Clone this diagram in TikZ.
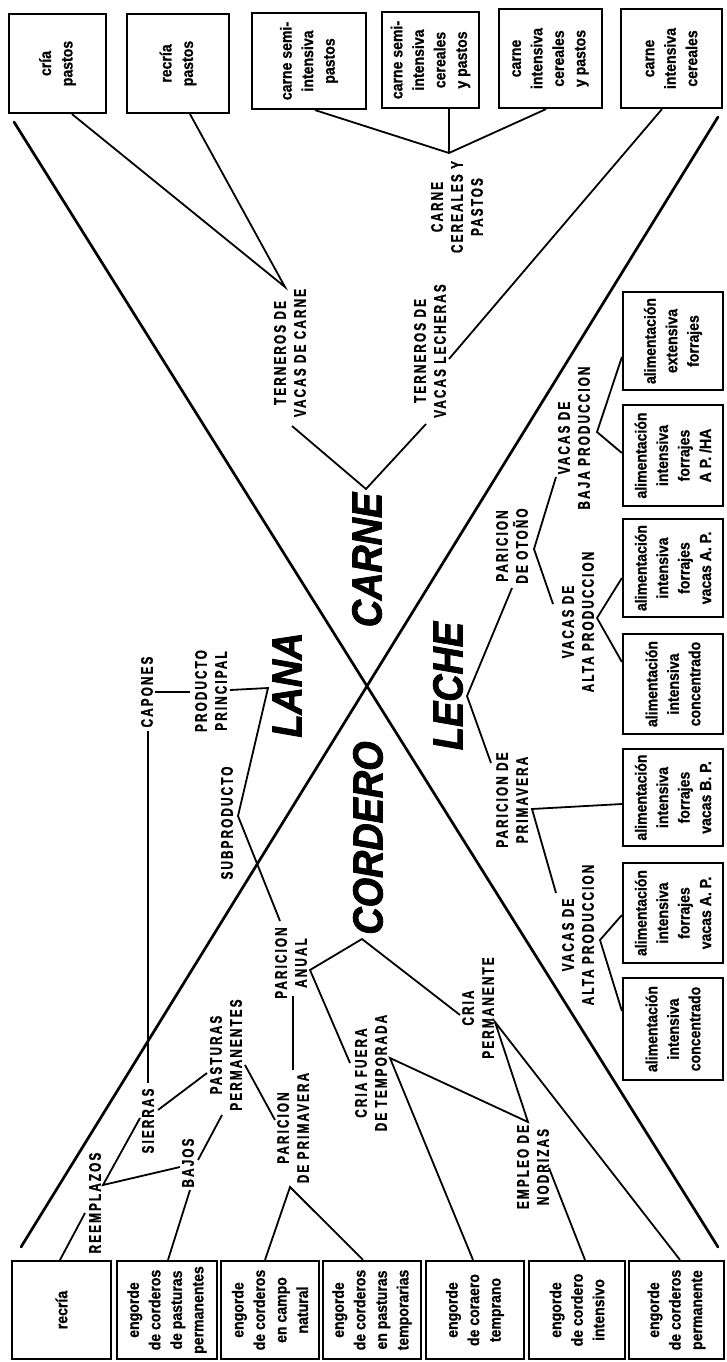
\documentclass[tikz,border=0pt]{standalone}
\usepackage{fontspec}
\newfontfamily\lblfont{Liberation Sans}[FakeStretch=0.7,LetterSpace=12.5,FakeBold=1]
\newfontfamily\bigfont{Liberation Sans}[FakeStretch=0.9,FakeBold=2]
\newfontfamily\boxfont{Liberation Sans}[FakeStretch=0.88,FakeBold=0.8]
\begin{document}
\begin{tikzpicture}[x=1pt,y=-1pt,
  box/.style={draw, line width=2.2pt, inner sep=0pt},
  btext/.style={rotate=90, align=center, inner sep=0pt,
    font=\boxfont\bfseries\fontsize{16}{21.5}\selectfont},
  lbl/.style={rotate=90, align=center, inner sep=1pt,
    font=\lblfont\bfseries\fontsize{16.8}{20}\selectfont},
  big/.style={rotate=90, inner sep=0pt,
    font=\bigfont\bfseries\itshape\fontsize{42}{42}\selectfont},
  ln/.style={line width=1.8pt, line join=miter},
  xline/.style={line width=2.7pt, line cap=round}]
\fill[white] (0,0) rectangle (726,1362);
\useasboundingbox (0,0) rectangle (726,1362);

% ---------- top row of boxes ----------
\node[box, minimum width=97pt,  minimum height=99pt] (t1) at (57.5,63.5) {};
\node[box, minimum width=102pt, minimum height=99pt] (t2) at (178,63.5) {};
\node[box, minimum width=114pt, minimum height=96pt] (t3) at (309,61) {};
\node[box, minimum width=97pt,  minimum height=96pt] (t4) at (430.5,60) {};
\node[box, minimum width=103pt, minimum height=99pt] (t5) at (550.5,58.5) {};
\node[box, minimum width=101pt, minimum height=99pt] (t6) at (671.5,58.5) {};
\node[btext] (t1x) at (t1) {cría\\pastos};
\node[btext] (t2x) at (t2) {recría\\pastos};
\node[btext] (t3x) at (t3) {carne semi-\\intensiva\\pastos};
\node[btext] (t4x) at (t4) {carne semi-\\intensiva\\cereales\\y pastos};
\node[btext] (t5x) at (t5) {carne\\intensiva\\cereales\\y pastos};
\node[btext] (t6x) at (t6) {carne\\intensiva\\cereales};

% ---------- right column of boxes ----------
\node[box, minimum width=100pt, minimum height=98pt]  (r1) at (673,341) {};
\node[box, minimum width=100pt, minimum height=101pt] (r2) at (673,455.5) {};
\node[box, minimum width=100pt, minimum height=98pt]  (r3) at (673,568) {};
\node[box, minimum width=100pt, minimum height=100pt] (r4) at (673,684) {};
\node[box, minimum width=100pt, minimum height=97pt]  (r5) at (673,797.5) {};
\node[box, minimum width=100pt, minimum height=100pt] (r6) at (673,913) {};
\node[box, minimum width=100pt, minimum height=102pt] (r7) at (673,1029) {};
\node[btext] (r1x) at (r1) {alimentación\\extensiva\\forrajes};
\node[btext] (r2x) at (r2) {alimentación\\intensiva\\forrajes\\A P. /HA};
\node[btext] (r3x) at (r3) {alimentación\\intensiva\\forrajes\\vacas A. P.};
\node[btext] (r4x) at (r4) {alimentación\\intensiva\\concentrado};
\node[btext] (r5x) at (r5) {alimentación\\intensiva\\forrajes\\vacas B. P.};
\node[btext] (r6x) at (r6) {alimentación\\intensiva\\forrajes\\vacas A. P.};
\node[btext] (r7x) at (r7) {alimentación\\intensiva\\concentrado};

% ---------- bottom row of boxes ----------
\node[box, minimum width=99pt,  minimum height=98pt] (b1) at (61.5,1310) {};
\node[box, minimum width=100pt, minimum height=98pt] (b2) at (167,1310) {};
\node[box, minimum width=98pt,  minimum height=98pt] (b3) at (270,1310) {};
\node[box, minimum width=98pt,  minimum height=98pt] (b4) at (372,1310) {};
\node[box, minimum width=98pt,  minimum height=98pt] (b5) at (475,1310) {};
\node[box, minimum width=96pt,  minimum height=98pt] (b6) at (577,1310) {};
\node[box, minimum width=95pt,  minimum height=98pt] (b7) at (676.5,1310) {};
\node[btext] (b1x) at (b1) {recría};
\node[btext] (b2x) at (b2) {engorde\\de corderos\\de pasturas\\permanentes};
\node[btext] (b3x) at (b3) {engorde\\de corderos\\en campo\\natural};
\node[btext] (b4x) at (b4) {engorde\\de corderos\\en pasturas\\temporarias};
\node[btext] (b5x) at (b5) {engorde\\de coraero\\temprano};
\node[btext] (b6x) at (b6) {engorde\\de cordero\\intensivo};
\node[btext] (b7x) at (b7) {engorde\\de corderos\\permanente};

% ---------- the big cross ----------
\coordinate (xa1) at (14,122);  \coordinate (xa2) at (718,1247);
\coordinate (xb1) at (718,117); \coordinate (xb2) at (21,1247);
\draw[xline] (xa1) -- (xa2);
\draw[xline] (xb1) -- (xb2);

\node[big] (lana)    at (287,685) {LANA};
\node[big] (carne)   at (367,560) {CARNE};
\node[big] (leche)   at (448,686) {LECHE};
\node[big] (cordero) at (368,838) {CORDERO};

% ---------- labels ----------
\node[lbl] (tvc)  at (290,353)  {TERNEROS DE\\VACAS DE CARNE};
\node[lbl] (tvl)  at (430,351)  {TERNEROS DE\\VACAS LECHERAS};
\node[lbl] (ccp)  at (457,207)  {CARNE\\CEREALES Y\\PASTOS};
\node[lbl] (poto) at (512,546)  {PARICION\\DE OTOÑO};
\node[lbl] (vbaj) at (574,438)  {VACAS DE\\BAJA PRODUCCION};
\node[lbl] (valt1) at (578,622) {VACAS DE\\ALTA PRODUCCION};
\node[lbl] (pprr) at (512,800)  {PARICION DE\\PRIMAVERA};
\node[lbl] (valt2) at (578,935) {VACAS DE\\ALTA PRODUCCION};
\node[lbl] (capo) at (147,692)  {CAPONES};
\node[lbl] (prod) at (211,691)  {PRODUCTO\\PRINCIPAL};
\node[lbl] (subp) at (227,823)  {SUBPRODUCTO};
\node[lbl] (panu) at (291,963)  {PARICION\\ANUAL};
\node[lbl] (cfue) at (371,1073) {CRIA FUERA\\DE TEMPORADA};
\node[lbl] (cper) at (478,1008) {CRIA\\PERMANENTE};
\node[lbl] (empl) at (533,1167) {EMPLEO DE\\NODRIZAS};
\node[lbl] (past) at (226,1055) {PASTURAS\\PERMANENTES};
\node[lbl] (sier) at (148,1121) {SIERRAS};
\node[lbl] (bajo) at (188,1163) {BAJOS};
\node[lbl] (reem) at (95,1203)  {REEMPLAZOS};
\node[lbl] (pprl) at (293,1128) {PARICION\\DE PRIMAVERA};

% ---------- junction points ----------
\coordinate (vTvc) at (285,287);
\coordinate (aTvc) at (292,426);
\coordinate (vCarne) at (366,489);
\coordinate (aTvl) at (426,424);
\coordinate (sTvl) at (449,359);
\coordinate (vCcp) at (449,153);

\coordinate (aOto) at (512,588);
\coordinate (vLeche) at (467,696);
\coordinate (aPrimR) at (491,763);
\coordinate (vOto) at (534,549);
\coordinate (aBaja) at (556,477);
\coordinate (aAlta1) at (553,604);
\coordinate (vBaja) at (597,432);
\coordinate (vAlta1) at (597,618);
\coordinate (vPrimR) at (532,809);
\coordinate (aAlta2) at (556,893);
\coordinate (vAlta2) at (600,940);

\coordinate (aCapR) at (155,692);
\coordinate (aProdL) at (190,692);
\coordinate (aCapB) at (148,731);
\coordinate (aSierT) at (148,1083);
\coordinate (aProdR) at (230,690);
\coordinate (kLana) at (268,688);
\coordinate (vSub) at (238,816);
\coordinate (aAnualT) at (280,921);
\coordinate (vAnual) at (310,970);
\coordinate (vCord) at (362,939);
\coordinate (aCriaP) at (460,1015);
\coordinate (aFueraT) at (350,1063);
\coordinate (vFuera) at (390,1058);
\coordinate (aEmpleoT) at (528,1122);
\coordinate (vCriaP) at (495,1022);
\coordinate (aEmpleoR) at (549,1168);
\coordinate (vSier) at (158,1110);
\coordinate (aPastB) at (207,1073);
\coordinate (vReem) at (103,1185);
\coordinate (aSierL) at (140,1118);
\coordinate (aBajL) at (180,1167);
\coordinate (aBajT) at (198,1160);
\coordinate (aPermB) at (222,1115);
\coordinate (aBajB) at (190,1190);
\coordinate (aReemB) at (85,1213);
\coordinate (aPastR) at (245,1065);
\coordinate (aPrimL) at (275,1120);
\coordinate (aAnualB) at (293,996);
\coordinate (aPrimT) at (293,1070);
\coordinate (vPrimL) at (290,1187);

% ---------- connectors: beef ----------
\draw[ln] ([xshift=14.5pt]t1.south) -- (vTvc) -- ([xshift=12pt]t2.south);
\draw[ln] (aTvc) -- (vCarne) -- (aTvl);
\draw[ln] (sTvl) -- ([xshift=-9.5pt]t6.south);
\draw[ln] ([xshift=6pt]t3.south) -- (vCcp) -- ([xshift=-4.5pt]t5.south);
\draw[ln] ([xshift=18.5pt]t4.south) -- (vCcp);

% ---------- connectors: milk ----------
\draw[ln] (aOto) -- (vLeche) -- (aPrimR);
\draw[ln] (aBaja) -- (vOto) -- (aAlta1);
\draw[ln] ([yshift=-16pt]r1.west) -- (vBaja) -- ([yshift=2.5pt]r2.west);
\draw[ln] ([yshift=-10pt]r3.west) -- (vAlta1) -- ([yshift=22pt]r4.west);
\draw[ln] ([yshift=-6.5pt]r5.west) -- (vPrimR) -- (aAlta2);
\draw[ln] ([yshift=-2pt]r6.west) -- (vAlta2) -- ([yshift=18pt]r7.west);

% ---------- connectors: wool and lamb ----------
\draw[ln] (aCapR) -- (aProdL);
\draw[ln] (aCapB) -- (aSierT);
\draw[ln] (aProdR) -- (kLana) -- (vSub) -- (aAnualT);
\draw[ln] (aFueraT) -- (vAnual) -- (vCord) -- (aCriaP);
\draw[ln] ([xshift=-2pt]b5.north) -- (vFuera) -- (aEmpleoT) -- (vCriaP) -- ([xshift=3.5pt]b7.north);
\draw[ln] (aEmpleoR) -- ([xshift=8pt]b6.north);
\draw[ln] (vSier) -- (aPastB);
\draw[ln] (aSierL) -- (vReem) -- (aBajL);
\draw[ln] (aBajT) -- (aPermB);
\draw[ln] (aBajB) -- ([xshift=1pt]b2.north);
\draw[ln] (aReemB) -- ([xshift=-1.5pt]b1.north);
\draw[ln] (aPastR) -- (aPrimL);
\draw[ln] (aAnualB) -- (aPrimT);
\draw[ln] ([xshift=-5pt]b3.north) -- (vPrimL) -- ([xshift=-9pt]b4.north);
\end{tikzpicture}
\end{document}
